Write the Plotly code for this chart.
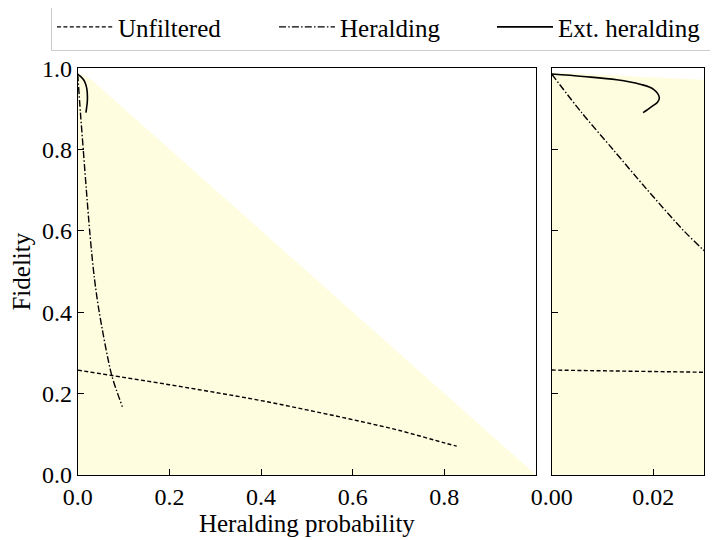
import plotly.graph_objects as go

# Region boundary (feasible region, shaded)
region_p = [0.0, 0.03, 1.0, 0.0]
region_f = [0.99, 0.972, 0.0, 0.0]

# Unfiltered
unf_p = [0.0, 0.1, 0.2, 0.3, 0.4, 0.5, 0.6, 0.7, 0.8, 0.827]
unf_f = [0.258, 0.240, 0.222, 0.203, 0.183, 0.160, 0.136, 0.110, 0.079, 0.071]

# Heralding
her_p = [0.0, 0.0059, 0.0121, 0.0187, 0.0259, 0.0300, 0.036, 0.047, 0.074, 0.0974]
her_f = [0.986, 0.891, 0.800, 0.703, 0.602, 0.552, 0.487, 0.40, 0.246, 0.168]

# Extended heralding
ext_p = [0.0, 0.0062, 0.0128, 0.0174, 0.0200, 0.0212, 0.0208, 0.0197, 0.0180]
ext_f = [0.986, 0.980, 0.972, 0.961, 0.949, 0.928, 0.916, 0.906, 0.891]

x_ticks_left = [0.0, 0.2, 0.4, 0.6, 0.8]
x_ticks_right = [0.0, 0.02]
y_ticks = [0.0, 0.2, 0.4, 0.6, 0.8, 1.0]

FONT = "Liberation Serif"
FILL = "rgb(255,253,224)"
TICK_SIZE = 24
TEXT_SIZE = 25

fig = go.Figure()

legend_widths = {"Unfiltered": 151, "Heralding": 147, "Ext. heralding": 158}

for xa, ya, show in [("x", "y", True), ("x2", "y2", False)]:
    fig.add_trace(go.Scatter(x=region_p, y=region_f, fill="toself", fillcolor=FILL,
                             line=dict(width=0), mode="lines", showlegend=False,
                             hoverinfo="skip", xaxis=xa, yaxis=ya))
    fig.add_trace(go.Scatter(x=unf_p, y=unf_f, mode="lines", name="Unfiltered",
                             line=dict(color="black", width=1.4, dash="4px,2.4px", shape="spline"),
                             showlegend=show, legendwidth=legend_widths["Unfiltered"],
                             xaxis=xa, yaxis=ya))
    fig.add_trace(go.Scatter(x=her_p, y=her_f, mode="lines", name="Heralding",
                             line=dict(color="black", width=1.4, dash="7px,2.2px,1.5px,2.2px",
                                       shape="spline", smoothing=0.8),
                             showlegend=show, legendwidth=legend_widths["Heralding"],
                             xaxis=xa, yaxis=ya))
    fig.add_trace(go.Scatter(x=ext_p, y=ext_f, mode="lines", name="Ext. heralding",
                             line=dict(color="black", width=1.6, shape="spline"),
                             showlegend=show, legendwidth=legend_widths["Ext. heralding"],
                             xaxis=xa, yaxis=ya))

axis_common = dict(showline=True, linecolor="black", linewidth=1, mirror=True,
                   ticks="inside", ticklen=6, tickwidth=1, tickcolor="black",
                   showgrid=False, zeroline=False, automargin=False,
                   tickfont=dict(family=FONT, size=TICK_SIZE, color="black"))

Y_DOM = [0.1352, 0.8883]

fig.update_layout(
    width=718, height=540,
    margin=dict(l=0, r=0, t=0, b=0, autoexpand=False),
    paper_bgcolor="white", plot_bgcolor="white",
    font=dict(family=FONT, size=TEXT_SIZE, color="black"),
    xaxis=dict(domain=[0.0971, 0.7354], range=[0, 1], tickvals=x_ticks_left,
               ticktext=["0.0", "0.2", "0.4", "0.6", "0.8"],
               title=dict(text="Heralding probability", standoff=4,
                          font=dict(family=FONT, size=TEXT_SIZE)), anchor="y", **axis_common),
    yaxis=dict(domain=Y_DOM, range=[0, 1], tickvals=y_ticks,
               ticktext=["0.0", "0.2", "0.4", "0.6", "0.8", "1.0"],
               title=dict(text="Fidelity", standoff=8, font=dict(family=FONT, size=TEXT_SIZE)),
               anchor="x", **axis_common),
    xaxis2=dict(domain=[0.7572, 0.9694], range=[0, 0.03], tickvals=x_ticks_right,
                ticktext=["0.00", "0.02"], anchor="y2", **axis_common),
    yaxis2=dict(domain=Y_DOM, range=[0, 1], tickvals=y_ticks,
                showticklabels=False, anchor="x2", **axis_common),
    legend=dict(orientation="h", x=0.0599, y=1.009, xanchor="left", yanchor="top",
                bordercolor="#cccccc", borderwidth=1, bgcolor="white",
                font=dict(family=FONT, size=TEXT_SIZE), itemwidth=56),
)

fig.write_html("out.html")
